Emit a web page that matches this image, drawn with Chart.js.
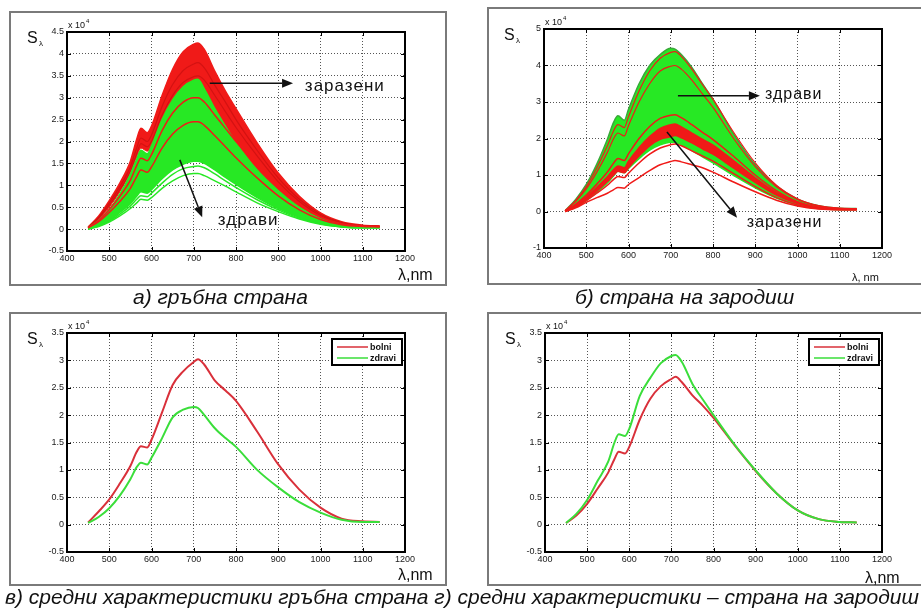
<!DOCTYPE html>
<html>
<head>
<meta charset="utf-8">
<script src="https://cdn.jsdelivr.net/npm/chart.js@4.4.1/dist/chart.umd.min.js"></script>
<style>
  html, body { margin: 0; padding: 0; background: #fff; }
  body { width: 921px; height: 610px; position: relative; overflow: hidden; font-family: "Liberation Sans", Arial, sans-serif; }
  .frame { position: absolute; border: 2px solid #7a7a7a; box-sizing: border-box; }
  canvas { position: absolute; }
  .cap { position: absolute; font-style: italic; font-size: 21px; color: #111; white-space: nowrap; }
</style>
</head>
<body>
<div class="frame" style="left:9px;top:11px;width:438px;height:275px"></div>
<div class="frame" style="left:487px;top:7px;width:440px;height:278px"></div>
<div class="frame" style="left:9px;top:312px;width:438px;height:274px"></div>
<div class="frame" style="left:487px;top:312px;width:440px;height:274px"></div>

<canvas id="chartA" width="438" height="275" style="left:9px;top:11px"></canvas>
<canvas id="chartB" width="434" height="278" style="left:487px;top:7px"></canvas>
<canvas id="chartC" width="438" height="274" style="left:9px;top:312px"></canvas>
<canvas id="chartD" width="434" height="274" style="left:487px;top:312px"></canvas>

<div class="cap" style="left:133px;top:285px">а) гръбна страна</div>
<div class="cap" style="left:575px;top:285px">б) страна на зародиш</div>
<div class="cap" style="left:5px;top:585px">в) средни характеристики гръбна страна г) средни характеристики – страна на зародиш</div>

<script>
// -------------------------------
// DATA
// -------------------------------
const lambda = [450, 475, 500, 525, 550, 565, 575, 590, 600, 625, 650, 675, 700, 710, 725, 750, 775, 800, 850, 900, 950, 1000, 1050, 1100, 1140];

// а) гръбна страна
const aRedHigh   = [0.05, 0.30, 0.65, 1.05, 1.55, 2.05, 2.30, 2.20, 2.35, 3.05, 3.65, 4.05, 4.22, 4.25, 4.10, 3.60, 3.15, 2.75, 1.97, 1.28, 0.75, 0.37, 0.17, 0.09, 0.07];
const aRedLow    = [0.03, 0.22, 0.50, 0.85, 1.30, 1.65, 1.85, 1.78, 1.90, 2.30, 2.50, 2.60, 2.65, 2.65, 2.55, 2.30, 2.05, 1.80, 1.30, 0.85, 0.48, 0.23, 0.10, 0.06, 0.05];
const aRed1      = [0.04, 0.27, 0.60, 0.97, 1.42, 1.85, 2.08, 2.00, 2.15, 2.80, 3.30, 3.62, 3.77, 3.80, 3.68, 3.28, 2.90, 2.50, 1.80, 1.17, 0.68, 0.34, 0.15, 0.08, 0.07];
const aRed2      = [0.04, 0.25, 0.55, 0.90, 1.32, 1.72, 1.95, 1.88, 2.00, 2.60, 3.05, 3.35, 3.48, 3.50, 3.40, 3.05, 2.68, 2.32, 1.67, 1.08, 0.63, 0.31, 0.14, 0.08, 0.06];
const aRed3      = [0.03, 0.20, 0.45, 0.75, 1.12, 1.45, 1.62, 1.56, 1.70, 2.25, 2.65, 2.90, 3.00, 3.00, 2.90, 2.60, 2.30, 2.00, 1.44, 0.93, 0.54, 0.27, 0.12, 0.07, 0.06];
const aRed4      = [0.03, 0.17, 0.38, 0.63, 0.93, 1.20, 1.35, 1.30, 1.42, 1.85, 2.17, 2.37, 2.45, 2.45, 2.37, 2.13, 1.88, 1.63, 1.17, 0.76, 0.44, 0.22, 0.10, 0.06, 0.05];
const aGreenHigh = [0.03, 0.20, 0.45, 0.80, 1.25, 1.60, 1.80, 1.72, 1.90, 2.50, 2.95, 3.25, 3.40, 3.42, 3.20, 2.75, 2.35, 1.97, 1.35, 0.88, 0.50, 0.24, 0.10, 0.05, 0.04];
const aGreenLow  = [0.00, 0.08, 0.20, 0.38, 0.58, 0.75, 0.85, 0.82, 0.90, 1.15, 1.35, 1.48, 1.55, 1.55, 1.50, 1.35, 1.18, 1.02, 0.72, 0.47, 0.27, 0.13, 0.06, 0.03, 0.03];
const aGreen1    = [0.00, 0.07, 0.18, 0.34, 0.53, 0.68, 0.76, 0.74, 0.82, 1.05, 1.25, 1.38, 1.43, 1.44, 1.40, 1.26, 1.10, 0.95, 0.67, 0.44, 0.25, 0.12, 0.05, 0.03, 0.03];
const aGreen2    = [0.00, 0.06, 0.16, 0.30, 0.47, 0.60, 0.68, 0.66, 0.72, 0.93, 1.10, 1.22, 1.27, 1.27, 1.22, 1.10, 0.98, 0.85, 0.60, 0.40, 0.23, 0.11, 0.05, 0.03, 0.03];

// б) страна на зародиш
const bGreenHigh = [0.02, 0.33, 0.74, 1.30, 1.98, 2.45, 2.62, 2.50, 2.80, 3.50, 4.00, 4.30, 4.47, 4.45, 4.30, 3.95, 3.50, 3.08, 2.10, 1.28, 0.70, 0.34, 0.16, 0.09, 0.08];
const bGreenLow  = [0.00, 0.12, 0.30, 0.52, 0.78, 0.98, 1.10, 1.06, 1.18, 1.45, 1.68, 1.83, 1.90, 1.90, 1.83, 1.67, 1.50, 1.33, 0.98, 0.65, 0.37, 0.18, 0.08, 0.05, 0.05];
const bRedHigh   = [0.02, 0.18, 0.40, 0.66, 0.95, 1.15, 1.25, 1.20, 1.38, 1.75, 2.05, 2.28, 2.38, 2.40, 2.32, 2.15, 1.98, 1.82, 1.38, 0.92, 0.52, 0.25, 0.11, 0.06, 0.06];
const bRedLow    = [0.01, 0.15, 0.33, 0.56, 0.82, 1.00, 1.10, 1.06, 1.20, 1.52, 1.80, 1.98, 2.05, 2.08, 2.02, 1.88, 1.72, 1.57, 1.18, 0.80, 0.45, 0.22, 0.10, 0.06, 0.05];
const bRed1      = [0.00, 0.10, 0.25, 0.38, 0.50, 0.60, 0.66, 0.64, 0.74, 0.93, 1.12, 1.28, 1.37, 1.40, 1.36, 1.28, 1.20, 1.08, 0.80, 0.54, 0.31, 0.15, 0.07, 0.05, 0.05];
const bRed2      = [0.00, 0.13, 0.30, 0.50, 0.72, 0.88, 0.96, 0.93, 1.05, 1.33, 1.57, 1.74, 1.83, 1.85, 1.80, 1.66, 1.52, 1.38, 1.03, 0.68, 0.38, 0.18, 0.08, 0.05, 0.05];
const bRed3      = [0.01, 0.20, 0.45, 0.75, 1.08, 1.33, 1.45, 1.40, 1.58, 2.00, 2.33, 2.55, 2.64, 2.65, 2.57, 2.38, 2.17, 1.97, 1.50, 1.00, 0.57, 0.27, 0.12, 0.07, 0.06];
const bRed4      = [0.02, 0.28, 0.62, 1.08, 1.62, 2.00, 2.15, 2.07, 2.35, 3.00, 3.50, 3.85, 3.98, 4.00, 3.90, 3.60, 3.22, 2.85, 1.98, 1.23, 0.68, 0.33, 0.15, 0.08, 0.07];
const bRed5      = [0.02, 0.30, 0.68, 1.20, 1.80, 2.22, 2.38, 2.30, 2.60, 3.30, 3.85, 4.20, 4.36, 4.38, 4.25, 3.90, 3.48, 3.07, 2.15, 1.33, 0.72, 0.35, 0.16, 0.09, 0.08];

// в), г) средни характеристики
const cBolni  = [0.04, 0.24, 0.46, 0.75, 1.07, 1.33, 1.43, 1.41, 1.55, 2.05, 2.55, 2.80, 2.97, 3.02, 2.92, 2.63, 2.45, 2.26, 1.70, 1.10, 0.64, 0.31, 0.11, 0.06, 0.05];
const cZdravi = [0.03, 0.14, 0.30, 0.53, 0.83, 1.05, 1.13, 1.10, 1.22, 1.58, 1.96, 2.10, 2.15, 2.13, 2.00, 1.76, 1.58, 1.42, 1.00, 0.68, 0.41, 0.22, 0.09, 0.05, 0.05];
const dBolni  = [0.03, 0.17, 0.38, 0.66, 0.95, 1.20, 1.33, 1.30, 1.42, 1.92, 2.30, 2.53, 2.66, 2.70, 2.60, 2.36, 2.17, 1.95, 1.45, 0.98, 0.57, 0.26, 0.10, 0.05, 0.04];
const dZdravi = [0.03, 0.20, 0.45, 0.80, 1.15, 1.50, 1.65, 1.62, 1.75, 2.35, 2.68, 2.95, 3.08, 3.10, 2.97, 2.57, 2.28, 2.00, 1.46, 0.99, 0.57, 0.26, 0.10, 0.05, 0.04];

const legendLabels = ["bolni", "zdravi"];
const xRange = [400, 1200, 100];
const yRangeA = [-0.5, 4.5, 0.5];
const yRangeB = [-1, 5, 1];
const yRangeCD = [-0.5, 3.5, 0.5];

// -------------------------------
// COLORS
// -------------------------------
const RED = "#f01a18";
const RED_DARK = "#d41212";
const GREEN = "#27e824";
const GREEN_DARK = "#3aa83a";
const MEAN_RED = "#d9303a";
const MEAN_GREEN = "#3ade3a";

function pts(ys) {
  return lambda.map((x, i) => ({ x: x, y: ys[i] }));
}

function line(ys, color, width, extra) {
  return Object.assign({
    data: pts(ys),
    borderColor: color,
    backgroundColor: color,
    borderWidth: width,
    pointRadius: 0,
    fill: false,
    tension: 0.4,
    cubicInterpolationMode: "monotone"
  }, extra || {});
}

// first listed = drawn first (bottom)
function ordered(list) {
  list.forEach((ds, i) => { ds.order = list.length - i; });
  return list;
}

// -------------------------------
// MATLAB-LIKE DECORATION PLUGIN
// -------------------------------
const matlabPlugin = {
  id: "matlab",
  afterDraw(chart, args, opts) {
    const ctx = chart.ctx;
    const a = chart.chartArea;
    const xs = chart.scales.x;
    const ys = chart.scales.y;
    ctx.save();

    // inward tick marks
    ctx.strokeStyle = "#000";
    ctx.lineWidth = 1;
    ctx.beginPath();
    xs.ticks.forEach((t) => {
      const px = Math.round(xs.getPixelForValue(t.value)) + 0.5;
      ctx.moveTo(px, a.bottom); ctx.lineTo(px, a.bottom - 4);
      ctx.moveTo(px, a.top); ctx.lineTo(px, a.top + 4);
    });
    ys.ticks.forEach((t) => {
      const py = Math.round(ys.getPixelForValue(t.value)) + 0.5;
      ctx.moveTo(a.left, py); ctx.lineTo(a.left + 4, py);
      ctx.moveTo(a.right, py); ctx.lineTo(a.right - 4, py);
    });
    ctx.stroke();

    // axes box
    ctx.lineWidth = 2;
    ctx.strokeRect(a.left, a.top, a.right - a.left, a.bottom - a.top);

    // S lambda label
    ctx.fillStyle = "#111";
    ctx.textBaseline = "alphabetic";
    ctx.textAlign = "left";
    ctx.font = "16px 'Liberation Sans', Arial, sans-serif";
    ctx.fillText("S", a.left - 40, a.top + 11);
    ctx.font = "8px 'Liberation Sans', Arial, sans-serif";
    ctx.fillText("λ", a.left - 28, a.top + 14);

    // exponent label
    ctx.font = "9px 'Liberation Sans', Arial, sans-serif";
    ctx.fillText("x 10", a.left + 1, a.top - 4);
    ctx.font = "6px 'Liberation Sans', Arial, sans-serif";
    ctx.fillText("4", a.left + 19, a.top - 9);

    // axis unit label
    ctx.font = opts.unitFont;
    ctx.fillText(opts.unit, a.right + opts.unitDx, a.bottom + opts.unitDy);

    // arrows
    ctx.strokeStyle = "#111";
    ctx.fillStyle = "#111";
    ctx.lineWidth = 1.5;
    (opts.arrows || []).forEach((ar) => {
      const x1 = xs.getPixelForValue(ar.from[0]);
      const y1 = ys.getPixelForValue(ar.from[1]);
      const x2 = xs.getPixelForValue(ar.to[0]);
      const y2 = ys.getPixelForValue(ar.to[1]);
      const ang = Math.atan2(y2 - y1, x2 - x1);
      const hl = 11, hw = 4.5;
      const bx = x2 - hl * Math.cos(ang);
      const by = y2 - hl * Math.sin(ang);
      ctx.beginPath();
      ctx.moveTo(x1, y1);
      ctx.lineTo(bx, by);
      ctx.stroke();
      ctx.beginPath();
      ctx.moveTo(x2, y2);
      ctx.lineTo(bx + hw * Math.sin(ang), by - hw * Math.cos(ang));
      ctx.lineTo(bx - hw * Math.sin(ang), by + hw * Math.cos(ang));
      ctx.closePath();
      ctx.fill();
    });

    // annotation texts
    ctx.font = opts.textFont || "17px 'Liberation Sans', Arial, sans-serif";
    ctx.letterSpacing = "1px";
    (opts.texts || []).forEach((t) => {
      ctx.fillText(t.text, xs.getPixelForValue(t.at[0]), ys.getPixelForValue(t.at[1]));
    });
    ctx.letterSpacing = "0px";

    // legend box
    if (opts.legend) {
      const w = 70, h = 26;
      const lx = a.right - 3 - w;
      const ly = a.top + 6;
      ctx.fillStyle = "#fff";
      ctx.fillRect(lx, ly, w, h);
      ctx.strokeStyle = "#000";
      ctx.lineWidth = 2;
      ctx.strokeRect(lx, ly, w, h);
      ctx.font = "bold 9px 'Liberation Sans', Arial, sans-serif";
      opts.legend.forEach((item, i) => {
        const yy = ly + 8 + i * 11;
        ctx.strokeStyle = item.color;
        ctx.lineWidth = 1.5;
        ctx.beginPath();
        ctx.moveTo(lx + 5, yy);
        ctx.lineTo(lx + 36, yy);
        ctx.stroke();
        ctx.fillStyle = "#111";
        ctx.textBaseline = "middle";
        ctx.fillText(item.label, lx + 38, yy + 0.5);
      });
    }
    ctx.restore();
  }
};

// -------------------------------
// COMMON OPTIONS
// -------------------------------
function fmt(v) {
  return String(Math.round(v * 10) / 10);
}

function makeOptions(yRange, pad, yWidth, xHeight, deco) {
  return {
    responsive: false,
    animation: false,
    events: [],
    layout: { padding: { left: 0, top: pad.top, right: pad.right, bottom: 0 } },
    plugins: {
      legend: { display: false },
      tooltip: { enabled: false },
      matlab: deco
    },
    scales: {
      x: {
        type: "linear",
        min: xRange[0],
        max: xRange[1],
        afterFit: (s) => { s.height = xHeight; },
        ticks: {
          stepSize: xRange[2],
          padding: 2,
          maxRotation: 0,
          color: "#1a1a1a",
          callback: (v) => String(v),
          font: { family: "'Liberation Sans', Arial, sans-serif", size: 9 }
        },
        grid: { color: "#555", lineWidth: 1, drawTicks: false },
        border: { display: false, dash: [1, 2] }
      },
      y: {
        type: "linear",
        min: yRange[0],
        max: yRange[1],
        afterFit: (s) => { s.width = yWidth; },
        ticks: {
          stepSize: yRange[2],
          padding: 3,
          color: "#1a1a1a",
          callback: (v) => fmt(v),
          font: { family: "'Liberation Sans', Arial, sans-serif", size: 9 }
        },
        grid: { color: "#555", lineWidth: 1, drawTicks: false },
        border: { display: false, dash: [1, 2] }
      }
    }
  };
}

const bigUnit = { unit: "λ,nm", unitFont: "16px 'Liberation Sans', Arial, sans-serif" };

// -------------------------------
// CHART A
// -------------------------------
new Chart(document.getElementById("chartA"), {
  type: "line",
  data: {
    datasets: ordered([
      line(aRedLow, RED, 1),
      line(aRedHigh, RED, 1.5, { fill: "-1", backgroundColor: RED }),
      line(aRed1, RED_DARK, 1.2),
      line(aRed2, RED_DARK, 1.2),
      line(aGreenLow, GREEN, 1.5),
      line(aGreenHigh, GREEN, 1.5, { fill: "-1", backgroundColor: GREEN }),
      line(aGreen1, GREEN, 1.5),
      line(aGreen2, GREEN, 1.5),
      line(aRed3, RED, 1.5),
      line(aRed4, RED, 1.5)
    ])
  },
  options: makeOptions(yRangeA, { top: 21, right: 42 }, 58, 35, Object.assign({
    unitDx: -7, unitDy: 29,
    arrows: [
      { from: [738, 3.33], to: [935, 3.33] },
      { from: [667, 1.58], to: [720, 0.27] }
    ],
    texts: [
      { text: "заразени", at: [963, 3.15] },
      { text: "здрави", at: [757, 0.1] }
    ]
  }, bigUnit)),
  plugins: [matlabPlugin]
});

// -------------------------------
// CHART B
// -------------------------------
new Chart(document.getElementById("chartB"), {
  type: "line",
  data: {
    datasets: ordered([
      line(bGreenLow, GREEN, 1.5),
      line(bGreenHigh, GREEN_DARK, 1.5, { fill: "-1", backgroundColor: GREEN }),
      line(bRed5, RED, 1.2),
      line(bRed4, RED, 1.2),
      line(bRedLow, RED, 1.5),
      line(bRedHigh, RED, 1.5, { fill: "-1", backgroundColor: RED }),
      line(bRed3, RED, 1.5),
      line(bRed2, RED, 1.5),
      line(bRed1, RED, 1.5)
    ])
  },
  options: makeOptions(yRangeB, { top: 22, right: 39 }, 57, 37, {
    unit: "λ, nm",
    unitFont: "11px 'Liberation Sans', Arial, sans-serif",
    unitDx: -30, unitDy: 33,
    textFont: "16px 'Liberation Sans', Arial, sans-serif",
    arrows: [
      { from: [717, 3.17], to: [911, 3.17] },
      { from: [691, 2.18], to: [857, -0.17] }
    ],
    texts: [
      { text: "здрави", at: [923, 3.07] },
      { text: "заразени", at: [880, -0.43] }
    ]
  }),
  plugins: [matlabPlugin]
});

// -------------------------------
// CHARTS C, D
// -------------------------------
new Chart(document.getElementById("chartC"), {
  type: "line",
  data: {
    datasets: ordered([
      line(cBolni, MEAN_RED, 2),
      line(cZdravi, MEAN_GREEN, 2)
    ])
  },
  options: makeOptions(yRangeCD, { top: 21, right: 42 }, 58, 34, Object.assign({
    unitDx: -7, unitDy: 28,
    legend: [
      { label: legendLabels[0], color: MEAN_RED },
      { label: legendLabels[1], color: MEAN_GREEN }
    ]
  }, bigUnit)),
  plugins: [matlabPlugin]
});

new Chart(document.getElementById("chartD"), {
  type: "line",
  data: {
    datasets: ordered([
      line(dBolni, MEAN_RED, 2),
      line(dZdravi, MEAN_GREEN, 2)
    ])
  },
  options: makeOptions(yRangeCD, { top: 21, right: 39 }, 58, 34, Object.assign({
    unitDx: -17, unitDy: 31,
    legend: [
      { label: legendLabels[0], color: MEAN_RED },
      { label: legendLabels[1], color: MEAN_GREEN }
    ]
  }, bigUnit)),
  plugins: [matlabPlugin]
});
</script>
</body>
</html>
